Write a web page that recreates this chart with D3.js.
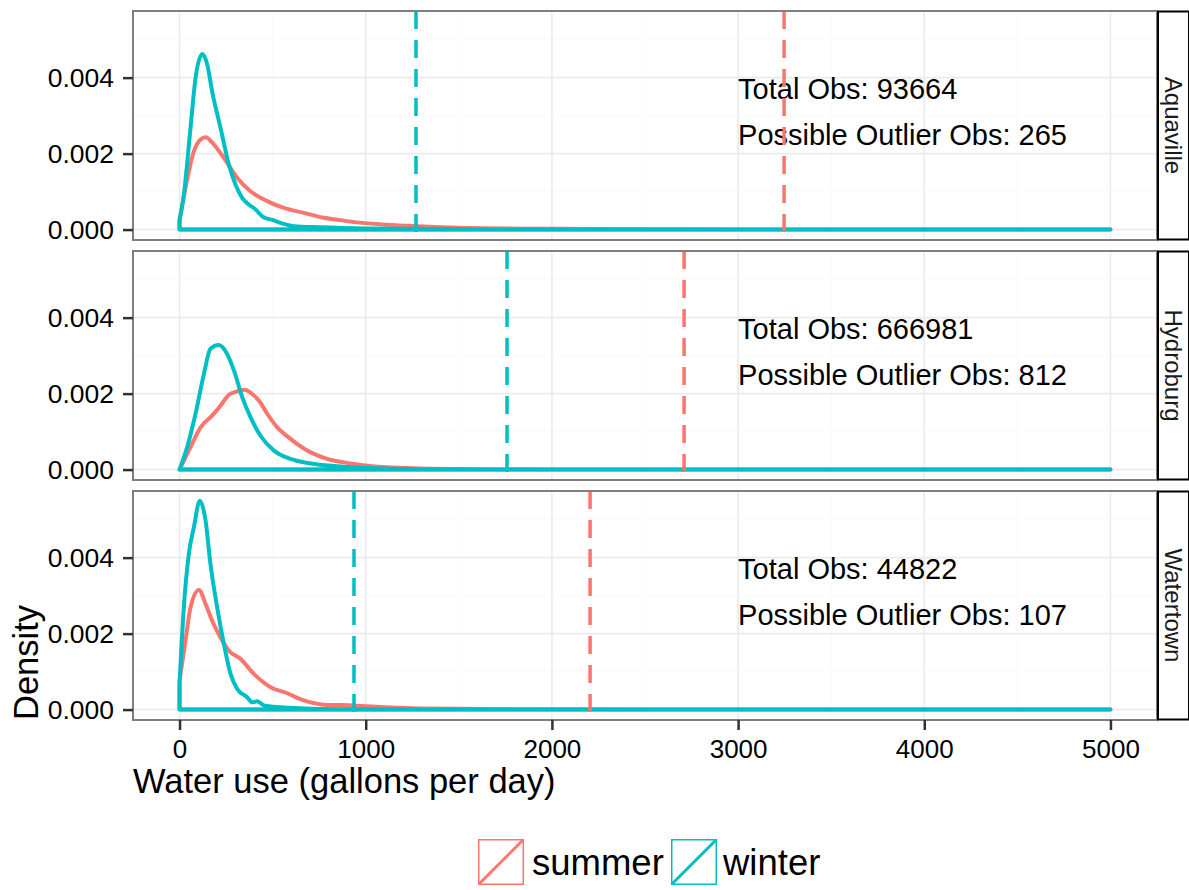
<!DOCTYPE html>
<html>
<head>
<meta charset="utf-8">
<script src="https://cdn.jsdelivr.net/npm/d3@7"></script>
<style>
  body { margin: 0; background: #fff; }
  svg text { font-family: "Liberation Sans", Arial, Helvetica, sans-serif; }
</style>
</head>
<body>
<div id="chart_area"></div>
<script>
// facets (rows) and their annotations
var facets = ["Aquaville", "Hydroburg", "Watertown"];
var totalObs = [93664, 666981, 44822];
var outlierObs = [265, 812, 107];
// dashed cut-off lines (gallons per day)
var summerCutoff = [3247, 2710, 2205];
var winterCutoff = [1270, 1759, 937];

var seasons = ["summer", "winter"];
var seasonColors = ["#F8766D", "#00BFC4"];

var xTicks = [0, 1000, 2000, 3000, 4000, 5000];
var yTicks = [0, 0.002, 0.004];

// density curves: [water use, density]
var aquavilleSummer = [[0, 0.00022], [32, 0.0011], [77, 0.00206], [113, 0.00237], [140, 0.00243], [184, 0.00224],
    [238, 0.00189], [310, 0.00136], [381, 0.00101], [471, 0.00075], [560, 0.00057], [668, 0.00044],
    [775, 0.00031], [847, 0.00026], [954, 0.00019], [1115, 0.00013], [1277, 0.00009], [1500, 0.00005],
    [2000, 0.00002], [2500, 0.00001], [3000, 0.000003], [4000, 0], [5000, 0]];
var aquavilleWinter = [[0, 0.00026], [23, 0.00092], [59, 0.00268], [86, 0.00399], [122, 0.00462], [149, 0.00434],
    [175, 0.00364], [220, 0.00268], [265, 0.00171], [301, 0.00118], [337, 0.00083], [372, 0.00066],
    [408, 0.00053], [444, 0.00035], [507, 0.00024], [560, 0.00015], [614, 0.00009], [757, 0.00006],
    [1000, 0.00003], [1500, 0.00001], [2000, 0], [5000, 0]];
var hydroburgSummer = [[0, 0], [59, 0.00059], [113, 0.00111], [175, 0.00142], [220, 0.00168], [265, 0.00197],
    [310, 0.00206], [349, 0.0021], [390, 0.00199], [426, 0.00182], [471, 0.00147], [525, 0.00111],
    [596, 0.00081], [686, 0.0005], [793, 0.00028], [936, 0.00015], [1115, 0.00006], [1294, 0.00003],
    [1600, 0.00001], [2000, 0], [5000, 0]];
var hydroburgWinter = [[0, 0], [41, 0.00059], [86, 0.00147], [131, 0.00252], [166, 0.00318], [211, 0.00328],
    [256, 0.00304], [292, 0.00261], [337, 0.0019], [381, 0.00138], [435, 0.00089], [507, 0.0005],
    [596, 0.00028], [704, 0.00016], [847, 0.00009], [1026, 0.00004], [1300, 0.00001], [1700, 0], [5000, 0]];
var watertownSummer = [[0, 0.00076], [32, 0.00182], [59, 0.00269], [104, 0.00315], [140, 0.00278], [175, 0.00234],
    [220, 0.0019], [265, 0.00155], [328, 0.00133], [399, 0.00094], [489, 0.00059], [578, 0.00043],
    [668, 0.00024], [775, 0.00013], [936, 0.00011], [1115, 0.00006], [1294, 0.00003], [1800, 0.00001],
    [2500, 0], [5000, 0]];
var watertownWinter = [[0, 0.00068], [23, 0.00269], [50, 0.0041], [77, 0.0048], [109, 0.0055], [140, 0.00497],
    [166, 0.00383], [202, 0.00269], [238, 0.00173], [274, 0.00094], [310, 0.00054], [364, 0.00032],
    [390, 0.00019], [417, 0.00022], [453, 0.00011], [542, 0.00006], [668, 0.00003], [900, 0.00001],
    [1300, 0], [5000, 0]];

var curves = [
    [aquavilleSummer, aquavilleWinter],
    [hydroburgSummer, hydroburgWinter],
    [watertownSummer, watertownWinter]
];

// layout
var W = 1189, H = 890;
var panelLeft = 133, panelRight = 1157,
    panelTop = 11, panelH = 229, panelGap = 11,
    stripW = 31;

var svg = d3.select("#chart_area")
    .append("svg")
    .attr("width", W)
    .attr("height", H);

// scales (shared by every facet)
var yMax = 0.00548;
var x = d3.scaleLinear()
    .domain([-250, 5250])
    .range([panelLeft, panelRight]);
var y = d3.scaleLinear()
    .domain([-0.05 * yMax, 1.05 * yMax])
    .range([panelH, 0]);

var line = d3.line()
    .x(function (d) { return x(d[0]); })
    .y(function (d) { return y(d[1]); })
    .curve(d3.curveMonotoneX);

facets.forEach(function (name, i) {
    var top = panelTop + i * (panelH + panelGap);
    var g = svg.append("g")
        .attr("transform", "translate(0," + top + ")");

    // panel background
    g.append("rect")
        .attr("x", panelLeft).attr("y", 0)
        .attr("width", panelRight - panelLeft).attr("height", panelH)
        .attr("fill", "#fff");

    // minor grid
    var xMinor = d3.range(500, 5000, 1000);
    var yMinor = [0.001, 0.003, 0.005];
    g.selectAll("xminor").data(xMinor).enter().append("line")
        .attr("x1", function (d) { return x(d); }).attr("x2", function (d) { return x(d); })
        .attr("y1", 0).attr("y2", panelH)
        .attr("stroke", "#fafafa").attr("stroke-width", 1.2);
    g.selectAll("yminor").data(yMinor).enter().append("line")
        .attr("x1", panelLeft).attr("x2", panelRight)
        .attr("y1", function (d) { return y(d); }).attr("y2", function (d) { return y(d); })
        .attr("stroke", "#fafafa").attr("stroke-width", 1.2);

    // major grid
    g.selectAll("xmajor").data(xTicks).enter().append("line")
        .attr("x1", function (d) { return x(d); }).attr("x2", function (d) { return x(d); })
        .attr("y1", 0).attr("y2", panelH)
        .attr("stroke", "#ebebeb").attr("stroke-width", 1.6);
    g.selectAll("ymajor").data(yTicks).enter().append("line")
        .attr("x1", panelLeft).attr("x2", panelRight)
        .attr("y1", function (d) { return y(d); }).attr("y2", function (d) { return y(d); })
        .attr("stroke", "#ebebeb").attr("stroke-width", 1.6);

    // density outlines: up from baseline, along curve, back along baseline
    curves[i].forEach(function (pts, s) {
        var p = line(pts);
        var d = "M" + x(pts[0][0]) + "," + y(0) + "L" + p.slice(1) +
            "L" + x(pts[0][0]) + "," + y(0) + "Z";
        g.append("path")
            .attr("d", d)
            .attr("fill", "none")
            .attr("stroke", seasonColors[s])
            .attr("stroke-width", 4)
            .attr("stroke-linejoin", "round");
    });

    // annotations
    g.append("text")
        .attr("x", x(3000)).attr("y", y(0.0037))
        .attr("dy", "0.35em")
        .attr("font-size", 29)
        .attr("fill", "#000")
        .text("Total Obs: " + totalObs[i]);
    g.append("text")
        .attr("x", x(3000)).attr("y", y(0.0025))
        .attr("dy", "0.35em")
        .attr("font-size", 29)
        .attr("fill", "#000")
        .text("Possible Outlier Obs: " + outlierObs[i]);

    // cut-off lines
    [summerCutoff[i], winterCutoff[i]].forEach(function (v, s) {
        g.append("line")
            .attr("x1", x(v)).attr("x2", x(v))
            .attr("y1", 0).attr("y2", panelH)
            .attr("stroke", seasonColors[s])
            .attr("stroke-width", 3.5)
            .attr("stroke-dasharray", "18,11");
    });

    // panel border
    g.append("rect")
        .attr("x", panelLeft).attr("y", 0)
        .attr("width", panelRight - panelLeft).attr("height", panelH)
        .attr("fill", "none")
        .attr("stroke", "#7f7f7f")
        .attr("stroke-width", 2);

    // strip
    g.append("rect")
        .attr("x", panelRight + 1).attr("y", 0.5)
        .attr("width", stripW).attr("height", panelH - 1)
        .attr("fill", "#fff")
        .attr("stroke", "#000")
        .attr("stroke-width", 2);
    g.append("text")
        .attr("transform", "translate(" + (panelRight + 1 + stripW / 2) + "," + (panelH / 2) + ")rotate(90)")
        .attr("text-anchor", "middle")
        .attr("dy", "0.35em")
        .attr("font-size", 24)
        .attr("fill", "#1a1a1a")
        .text(name);

    // y axis
    var ya = g.append("g")
        .attr("transform", "translate(" + panelLeft + ",0)")
        .call(d3.axisLeft(y).tickValues(yTicks).tickFormat(d3.format(".3f")).tickSize(10).tickPadding(9));
    ya.select(".domain").remove();
    ya.selectAll(".tick line").attr("stroke", "#333").attr("stroke-width", 2.5);
    ya.selectAll(".tick text").attr("font-size", 26.5).attr("fill", "#000")
        .style("font-family", "'Liberation Sans', Arial, sans-serif");
});

// x axis under the last panel
var bottom = panelTop + 3 * panelH + 2 * panelGap;
var xa = svg.append("g")
    .attr("transform", "translate(0," + bottom + ")")
    .call(d3.axisBottom(x).tickValues(xTicks).tickFormat(d3.format("d")).tickSize(10).tickPadding(10));
xa.select(".domain").remove();
xa.selectAll(".tick line").attr("stroke", "#333").attr("stroke-width", 2.5);
xa.selectAll(".tick text").attr("font-size", 26).attr("fill", "#000")
    .style("font-family", "'Liberation Sans', Arial, sans-serif");

// axis titles
svg.append("text")
    .attr("x", panelLeft).attr("y", 793)
    .attr("font-size", 34.5)
    .attr("fill", "#000")
    .text("Water use (gallons per day)");
svg.append("text")
    .attr("transform", "translate(38," + bottom + ")rotate(-90)")
    .attr("font-size", 34.5)
    .attr("fill", "#000")
    .text("Density");

// legend
var keyX = [478, 671], textX = [532, 723];
var keySize = 46, keyY = 839;
seasons.forEach(function (s, i) {
    var k = svg.append("g").attr("transform", "translate(" + keyX[i] + "," + keyY + ")");
    k.append("rect")
        .attr("x", 0.75).attr("y", 0.75)
        .attr("width", keySize - 1.5).attr("height", keySize - 1.5)
        .attr("fill", "#fff")
        .attr("stroke", seasonColors[i])
        .attr("stroke-width", 1.5);
    k.append("line")
        .attr("x1", 1).attr("y1", keySize - 1)
        .attr("x2", keySize - 1).attr("y2", 1)
        .attr("stroke", seasonColors[i])
        .attr("stroke-width", 3);
    svg.append("text")
        .attr("x", textX[i]).attr("y", 875)
        .attr("font-size", 36.5)
        .attr("fill", "#000")
        .text(s);
});
</script>
</body>
</html>
